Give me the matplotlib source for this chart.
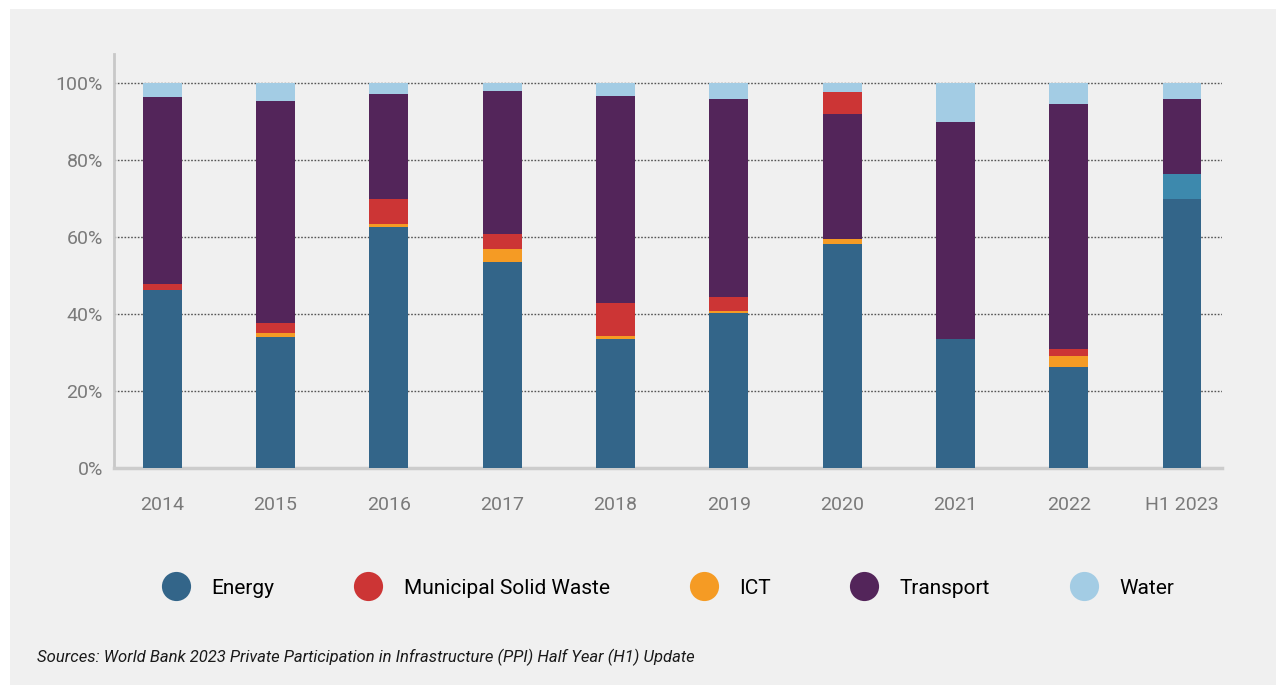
import numpy as np
import matplotlib
matplotlib.use("Agg")
from matplotlib import pyplot as plt
from matplotlib.lines import Line2D
from matplotlib.patches import Rectangle

plt.rcParams['font.family'] = ['Roboto', 'DejaVu Sans']

# shares of investment by sector, %
years = ["2014", "2015", "2016", "2017", "2018", "2019", "2020", "2021", "2022", "H1 2023"]
energy = [46.2, 34.1, 62.7, 53.6, 33.6, 40.4, 58.3, 33.6, 26.3, 69.8]
msw = [1.5, 2.6, 6.3, 3.9, 8.6, 3.8, 5.5, 0.0, 1.6, 0.0]
ict = [0.0, 1.1, 0.8, 3.2, 0.8, 0.3, 1.3, 0.0, 2.9, 0.0]
transport = [48.8, 57.7, 27.5, 37.4, 53.8, 51.3, 32.5, 56.4, 63.7, 19.5]
water = [3.5, 4.5, 2.7, 1.9, 3.2, 4.2, 2.4, 10.0, 5.5, 4.0]
# segment in H1 2023 with a colour not in the legend
unlabelled = [0.0, 0.0, 0.0, 0.0, 0.0, 0.0, 0.0, 0.0, 0.0, 6.7]
# years where the waste segment sits on top of transport
msw_on_top = ["2020"]

series = {
    "Energy": energy,
    "Municipal Solid Waste": msw,
    "ICT": ict,
    "Transport": transport,
    "Water": water,
    "other": unlabelled,
}
colors = {
    "Energy": "#336589",
    "Municipal Solid Waste": "#cc3535",
    "ICT": "#f59b24",
    "Transport": "#53255a",
    "Water": "#a3cce4",
    "other": "#3d89ad",
}

fig = plt.figure(figsize=(12.8, 6.85), dpi=100, facecolor="white")
fig.patches.append(Rectangle((10 / 1280, 0), 1266 / 1280, 676 / 685,
                             transform=fig.transFigure, facecolor="#f0f0f0",
                             edgecolor="none", zorder=-10))

ax = fig.add_axes([114 / 1280, 217 / 685, 1108 / 1280, 414 / 685])
ax.set_facecolor("none")

x = np.arange(len(years))
for i, yr in enumerate(years):
    if yr in msw_on_top:
        order = ["Energy", "ICT", "other", "Transport", "Municipal Solid Waste", "Water"]
    else:
        order = ["Energy", "ICT", "other", "Municipal Solid Waste", "Transport", "Water"]
    bottom = 0
    for name in order:
        v = series[name][i]
        if v > 0:
            ax.bar(x[i], v, bottom=bottom, width=0.344, color=colors[name], zorder=3)
        bottom += v

ax.set_xlim(-0.424, 9.353)
ax.set_ylim(0, 107.6)
ax.set_yticks([0, 20, 40, 60, 80, 100])
ax.set_yticklabels(["0%", "20%", "40%", "60%", "80%", "100%"])
ax.set_xticks(x)
ax.set_xticklabels(years)
ax.tick_params(axis="both", length=0, labelsize=14, labelcolor="#7a7a7a")
ax.tick_params(axis="y", pad=8)
ax.tick_params(axis="x", pad=20)

ax.yaxis.grid(True, linestyle=(0, (1.2, 1.2)), color="#555555", linewidth=1.0)
ax.set_axisbelow(True)
for s in ["top", "right"]:
    ax.spines[s].set_visible(False)
ax.spines["left"].set_color("#c8c8c8")
ax.spines["left"].set_linewidth(2)
ax.spines["bottom"].set_color("#cccccc")
ax.spines["bottom"].set_linewidth(2.5)

handles = [Line2D([], [], linestyle="none", marker="o", markersize=21,
                  markerfacecolor=colors[n], markeredgecolor="none")
           for n in ["Energy", "Municipal Solid Waste", "ICT", "Transport", "Water"]]
fig.legend(handles, ["Energy", "Municipal Solid Waste", "ICT", "Transport", "Water"],
           loc="center", bbox_to_anchor=(668 / 1280, 97 / 685), ncol=5, frameon=False,
           fontsize=15, handlelength=1.4, handletextpad=1.0, columnspacing=3.8)

fig.text(37 / 1280, 28 / 685,
         "Sources: World Bank 2023 Private Participation in Infrastructure (PPI) Half Year (H1) Update",
         fontsize=12, style="italic", color="#1a1a1a", va="center", ha="left")

fig.savefig("out.png", dpi=100, facecolor=fig.get_facecolor())
